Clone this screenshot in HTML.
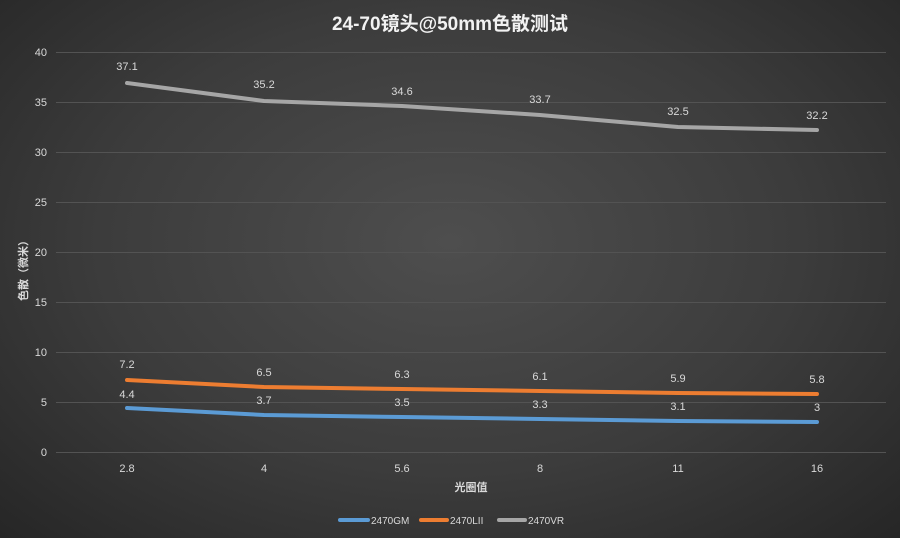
<!DOCTYPE html>
<html><head><meta charset="utf-8"><style>
html,body{margin:0;padding:0;}
body{width:900px;height:538px;overflow:hidden;background:radial-gradient(ellipse at 50% 45%,#4e4e4e 0%,#3c3c3c 55%,#262626 100%);font-family:"Liberation Sans","Noto Sans CJK SC",sans-serif;}
</style></head><body>
<svg width="900" height="538" xmlns="http://www.w3.org/2000/svg" style="position:absolute;left:0;top:0" font-family="Liberation Sans, Noto Sans CJK SC, sans-serif">
<text x="450" y="30" fill="#f2f2f2" font-size="19" font-weight="bold" text-anchor="middle">24-70镜头@50mm色散测试</text>
<g stroke="#535353" stroke-width="1">
<line x1="56" x2="886" y1="52.5" y2="52.5"/><line x1="56" x2="886" y1="102.5" y2="102.5"/>
<line x1="56" x2="886" y1="152.5" y2="152.5"/><line x1="56" x2="886" y1="202.5" y2="202.5"/>
<line x1="56" x2="886" y1="252.5" y2="252.5"/><line x1="56" x2="886" y1="302.5" y2="302.5"/>
<line x1="56" x2="886" y1="352.5" y2="352.5"/><line x1="56" x2="886" y1="402.5" y2="402.5"/>
<line x1="56" x2="886" y1="452.5" y2="452.5"/>
</g>
<g fill="#d9d9d9" font-size="11" text-anchor="end">
<text x="47" y="56">40</text><text x="47" y="106">35</text><text x="47" y="156">30</text>
<text x="47" y="206">25</text><text x="47" y="256">20</text><text x="47" y="306">15</text>
<text x="47" y="356">10</text><text x="47" y="406">5</text><text x="47" y="456">0</text>
</g>
<g fill="#d9d9d9" font-size="11" text-anchor="middle">
<text x="127" y="472">2.8</text><text x="264" y="472">4</text><text x="402" y="472">5.6</text>
<text x="540" y="472">8</text><text x="678" y="472">11</text><text x="817" y="472">16</text>
<text x="471" y="491" font-size="11" font-weight="bold">光圈值</text>
</g>
<text x="27" y="268" fill="#d9d9d9" font-size="11" font-weight="bold" text-anchor="middle" transform="rotate(-90 27 268)">色散（微米）</text>
<g fill="none" stroke-width="4" stroke-linecap="round" stroke-linejoin="round">
<polyline stroke="#a6a6a6" points="127,83 264,101 402,106 540,115 678,127 817,130"/>
<polyline stroke="#ed7d31" points="127,380 264,387 402,389 540,391 678,393 817,394"/>
<polyline stroke="#5b9bd5" points="127,408 264,415 402,417 540,419 678,421 817,422"/>
</g>
<g fill="#d9d9d9" font-size="11" text-anchor="middle">
<text x="127" y="70">37.1</text><text x="264" y="88">35.2</text><text x="402" y="95">34.6</text>
<text x="540" y="103">33.7</text><text x="678" y="115">32.5</text><text x="817" y="119">32.2</text>
<text x="127" y="368">7.2</text><text x="264" y="376">6.5</text><text x="402" y="378">6.3</text>
<text x="540" y="380">6.1</text><text x="678" y="382">5.9</text><text x="817" y="383">5.8</text>
<text x="127" y="398">4.4</text><text x="264" y="404">3.7</text><text x="402" y="406">3.5</text>
<text x="540" y="408">3.3</text><text x="678" y="410">3.1</text><text x="817" y="411">3</text>
</g>
<g stroke-width="4" stroke-linecap="round">
<line x1="340" x2="368" y1="520" y2="520" stroke="#5b9bd5"/>
<line x1="421" x2="447" y1="520" y2="520" stroke="#ed7d31"/>
<line x1="499" x2="525" y1="520" y2="520" stroke="#a6a6a6"/>
</g>
<g fill="#d9d9d9" font-size="10">
<text x="371" y="524">2470GM</text><text x="450" y="524">2470LII</text><text x="528" y="524">2470VR</text>
</g>
</svg>
</body></html>
